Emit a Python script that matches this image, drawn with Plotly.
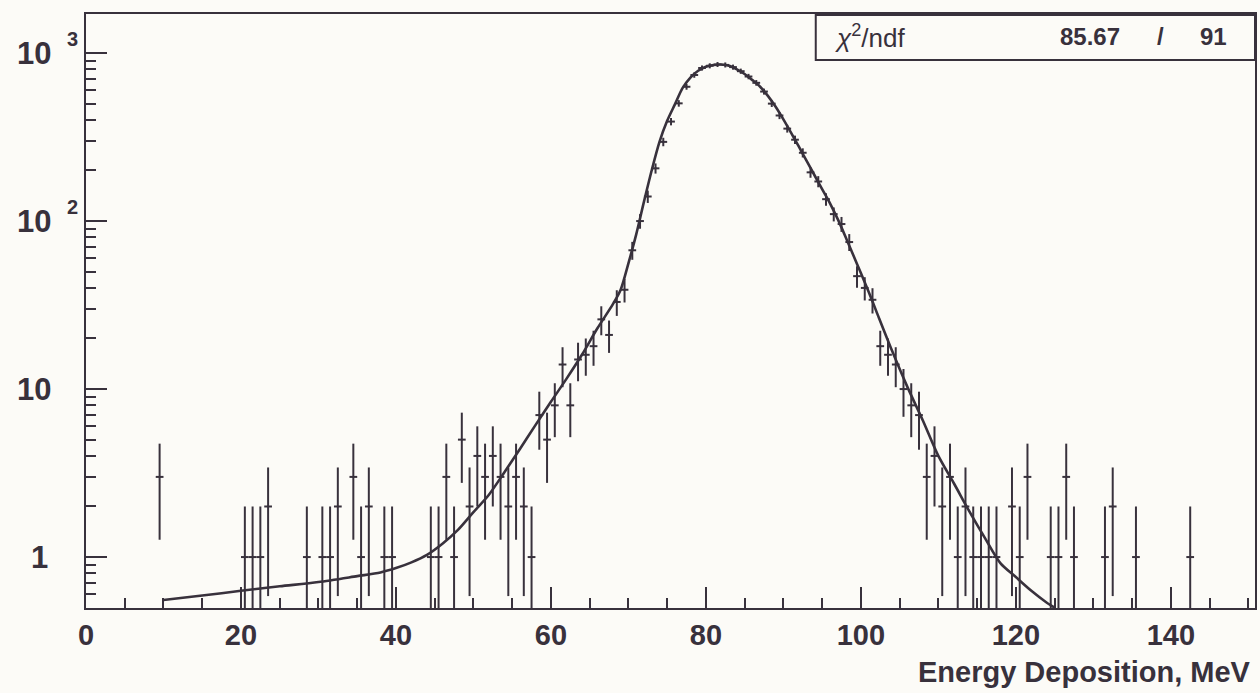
import numpy as np
import plotly.graph_objects as go

# ---- data: histogram bins (MeV) and counts ----
bin_x = [9.5, 20.5, 21.5, 22.5, 23.5, 28.5, 30.5, 31.5, 32.5, 34.5, 35.5, 36.5, 38.5, 39.5,
         44.5, 45.5, 46.5, 47.5, 48.5, 49.5, 50.5, 51.5, 52.5, 53.5, 54.5, 55.5, 56.5, 57.5,
         58.5, 59.5, 60.5, 61.5, 62.5, 63.5, 64.5, 65.5, 66.5, 67.5, 68.5, 69.5,
         70.5, 71.5, 72.5, 73.5, 74.5, 75.5, 76.5, 77.5, 78.5, 79.5,
         80.5, 81.5, 82.5, 83.5, 84.5, 85.5, 86.5, 87.5, 88.5, 89.5,
         90.5, 91.5, 92.5, 93.5, 94.5, 95.5, 96.5, 97.5, 98.5, 99.5,
         100.5, 101.5, 102.5, 103.5, 104.5, 105.5, 106.5, 107.5, 108.5, 109.5,
         110.5, 111.5, 112.5, 113.5, 114.5, 115.5, 116.5, 117.5, 119.5, 120.5, 121.5,
         124.5, 125.5, 126.5, 127.5, 131.5, 132.5, 135.5, 142.5]
counts = [3, 1, 1, 1, 2, 1, 1, 1, 2, 3, 1, 2, 1, 1,
          1, 1, 3, 1, 5, 2, 4, 3, 4, 3, 2, 3, 2, 1,
          7, 5, 8, 14, 8, 15, 16, 18, 26, 21, 33, 39,
          67, 100, 140, 206, 296, 391, 502, 630, 740, 815,
          840, 855, 850, 825, 780, 725, 665, 590, 500, 425,
          355, 305, 255, 195, 172, 135, 110, 96, 75, 47,
          40, 34, 18, 16, 14, 10, 8, 7, 3, 4,
          2, 3, 1, 2, 1, 1, 1, 1, 2, 1, 3,
          1, 1, 3, 1, 1, 2, 1, 1]

# ---- fitted curve ----
fit_x = [10, 15, 20, 25, 30, 35, 38, 40, 42, 44, 46, 48, 50, 52, 54, 56, 58, 60, 62, 64, 66,
         68, 69, 70, 71, 72, 73, 74, 75, 76, 77, 78, 79, 80, 81, 82, 83, 84, 85, 86, 87, 88,
         89, 90, 91, 92, 93, 94, 95, 96, 97, 98, 99, 100, 101, 102, 104, 106, 108, 110, 112,
         114, 116, 118, 120, 122, 124, 125]
fit_y = [0.555, 0.59, 0.63, 0.67, 0.71, 0.77, 0.81, 0.86, 0.93, 1.03, 1.2, 1.45, 1.85, 2.35,
         3.2, 4.4, 6.1, 8.4, 11.5, 16, 23, 32, 39, 56, 83, 130, 200, 295, 395, 495, 620, 715,
         785, 830, 850, 855, 840, 800, 750, 690, 630, 556, 479, 403, 335, 277, 228, 188, 155,
         128, 103, 81, 63, 49, 38, 29, 17, 10.3, 6.5, 4.0, 2.75, 1.87, 1.3, 0.92, 0.76, 0.63,
         0.535, 0.5]

x_ticks = [0, 20, 40, 60, 80, 100, 120, 140]
y_tick_vals = [1, 10, 100, 1000]
y_tick_base = ["1", "10", "10", "10"]
y_tick_exp = ["", "", "2", "3"]

chi2_text = "85.67"
ndf_text = "91"
x_title = "Energy Deposition, MeV"

INK = "#38313c"
BG = "#fcfbf7"
FONT = "Liberation Sans"

n = np.array(counts, dtype=float)
err = np.sqrt(n)
err_minus = np.where(n - err > 0, err, n - 0.3)

fig = go.Figure()
fig.add_trace(go.Scatter(
    x=bin_x, y=counts, mode="markers",
    marker=dict(size=2, color=INK),
    error_x=dict(type="constant", value=0.5, width=0, thickness=2, color=INK),
    error_y=dict(type="data", array=err, arrayminus=err_minus, width=0, thickness=2, color=INK),
    showlegend=False, hoverinfo="skip"))
fig.add_trace(go.Scatter(
    x=fit_x, y=fit_y, mode="lines",
    line=dict(color=INK, width=2.6, shape="spline", smoothing=0.8),
    showlegend=False, hoverinfo="skip"))

L, R, T, B = 86, 3, 14, 85
W, H = 1260, 693
pw = W - L - R
ph = H - T - B
decade = 168.0
y_lo = np.log10(0.4975)
y_hi = y_lo + ph / decade

fig.update_layout(
    width=W, height=H,
    margin=dict(l=L, r=R, t=T, b=B),
    paper_bgcolor=BG, plot_bgcolor=BG,
    font=dict(family=FONT, color=INK),
)
fig.update_xaxes(
    range=[0, pw / 7.762],
    showgrid=False, zeroline=False,
    showline=True, mirror=True, linecolor=INK, linewidth=2,
    ticks="inside", ticklen=21, tickwidth=1.5, tickcolor=INK,
    tickmode="array", tickvals=x_ticks, ticktext=[str(v) for v in x_ticks],
    tickfont=dict(family=FONT, size=29, color=INK, weight="bold"),
    minor=dict(ticks="inside", ticklen=10, tickwidth=1.5, tickcolor=INK, dtick=5, tick0=0, showgrid=False),
)
fig.update_yaxes(
    type="log", range=[y_lo, y_hi],
    showgrid=False, zeroline=False,
    showline=True, mirror=True, linecolor=INK, linewidth=2,
    ticks="inside", ticklen=21, tickwidth=1.5, tickcolor=INK,
    tickmode="array", tickvals=y_tick_vals, showticklabels=False,
    minor=dict(ticks="inside", ticklen=10, tickwidth=1.5, tickcolor=INK, dtick="D1", showgrid=False),
)

def px_to_paper_x(px):
    return (px - L) / pw

def px_to_paper_y(py):
    return (H - B - py) / ph

ann = []
for v, base, ex in zip(y_tick_vals, y_tick_base, y_tick_exp):
    right = 50 if base == "1" else 53
    ann.append(dict(xref="paper", yref="y", x=px_to_paper_x(right), y=np.log10(v),
                    text=base, showarrow=False, xanchor="right", yanchor="middle",
                    font=dict(family=FONT, size=31, color=INK, weight="bold")))
    if ex:
        ann.append(dict(xref="paper", yref="y", x=px_to_paper_x(65), y=np.log10(v) + 14 / decade,
                        text=ex, showarrow=False, xanchor="left", yanchor="middle",
                        font=dict(family=FONT, size=20, color=INK, weight="bold")))

ann.append(dict(xref="paper", yref="paper", x=px_to_paper_x(1255), y=px_to_paper_y(672),
                text=x_title, showarrow=False, xanchor="right", yanchor="middle",
                font=dict(family=FONT, size=29, color=INK, weight="bold")))

# stats box
fig.add_shape(type="rect", xref="paper", yref="paper",
              x0=px_to_paper_x(817), x1=1.0, y0=px_to_paper_y(60), y1=px_to_paper_y(15),
              line=dict(color=INK, width=2), fillcolor=BG, layer="above")
sy = px_to_paper_y(37)
ann.append(dict(xref="paper", yref="paper", x=px_to_paper_x(834), y=sy,
                text="<i>χ</i><sup>2</sup>/ndf", showarrow=False, xanchor="left", yanchor="middle",
                font=dict(family=FONT, size=26, color=INK)))
ann.append(dict(xref="paper", yref="paper", x=px_to_paper_x(1124), y=sy,
                text=chi2_text, showarrow=False, xanchor="right", yanchor="middle",
                font=dict(family=FONT, size=24, color=INK, weight="bold")))
ann.append(dict(xref="paper", yref="paper", x=px_to_paper_x(1162), y=sy,
                text="/", showarrow=False, xanchor="center", yanchor="middle",
                font=dict(family=FONT, size=24, color=INK, weight="bold")))
ann.append(dict(xref="paper", yref="paper", x=px_to_paper_x(1231), y=sy,
                text=ndf_text, showarrow=False, xanchor="right", yanchor="middle",
                font=dict(family=FONT, size=24, color=INK, weight="bold")))

fig.update_layout(annotations=ann)
fig.write_html("out.html", config={"displayModeBar": False},
               post_script="document.body.style.margin='0px';document.body.style.overflow='hidden';")
